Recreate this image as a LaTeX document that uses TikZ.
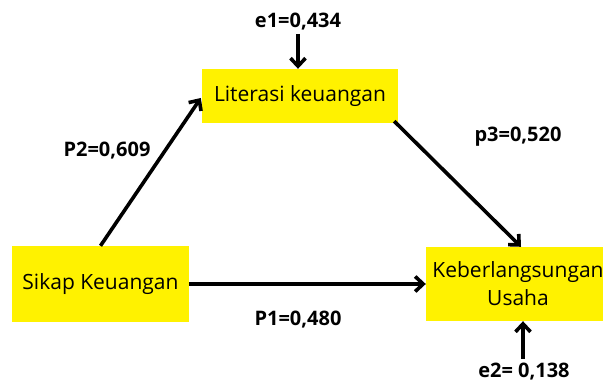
\documentclass[tikz,border=0pt]{standalone}
\usepackage{fontspec}
\setmainfont{Open Sans}
\usetikzlibrary{arrows.meta}
\begin{document}
\begin{tikzpicture}[x=1pt,y=1pt,
  box/.style={fill={rgb,255:red,255;green,242;blue,0}, inner sep=0pt, font=\fontsize{21}{28}\selectfont, align=center},
  lbl/.style={font=\bfseries\fontsize{20}{23}\selectfont},
  arr/.style={line width=3.6pt, -{Straight Barb[length=8pt,width=15pt,line width=3.6pt]}}]
\useasboundingbox (0,0) rectangle (603,383);
\node[box, minimum width=196pt, minimum height=54pt] (lit) at (300,287) {Literasi keuangan};
\node[box, minimum width=177pt, minimum height=76pt] (sik) at (100.5,99) {Sikap Keuangan};
\node[box, minimum width=184pt, minimum height=74pt] (keb) at (518,99) {Keberlangsungan\\Usaha};
\node[lbl] (e1) at (298,361) {e1=0,434};
\node[lbl] (e2) at (524,11) {e2= 0,138};
\node[lbl] (p2) at (107,232) {P2=0,609};
\node[lbl] (p3) at (518,246) {p3=0,520};
\node[lbl] (p1) at (298,63) {P1=0,480};
\coordinate (e1s) at (298,349);
\coordinate (e2s) at (523,24);
\draw[arr] (e1s) -- (lit.north -| e1s);
\draw[arr] (e2s) -- (keb.south -| e2s);
\draw[arr] (sik.north) -- ([xshift=-1pt,yshift=-2pt]lit.west);
\draw[arr] ([xshift=-4pt,yshift=2pt]lit.south east) -- ([xshift=3pt]keb.north);
\draw[arr] (sik.east) -- (keb.west);
\end{tikzpicture}
\end{document}
